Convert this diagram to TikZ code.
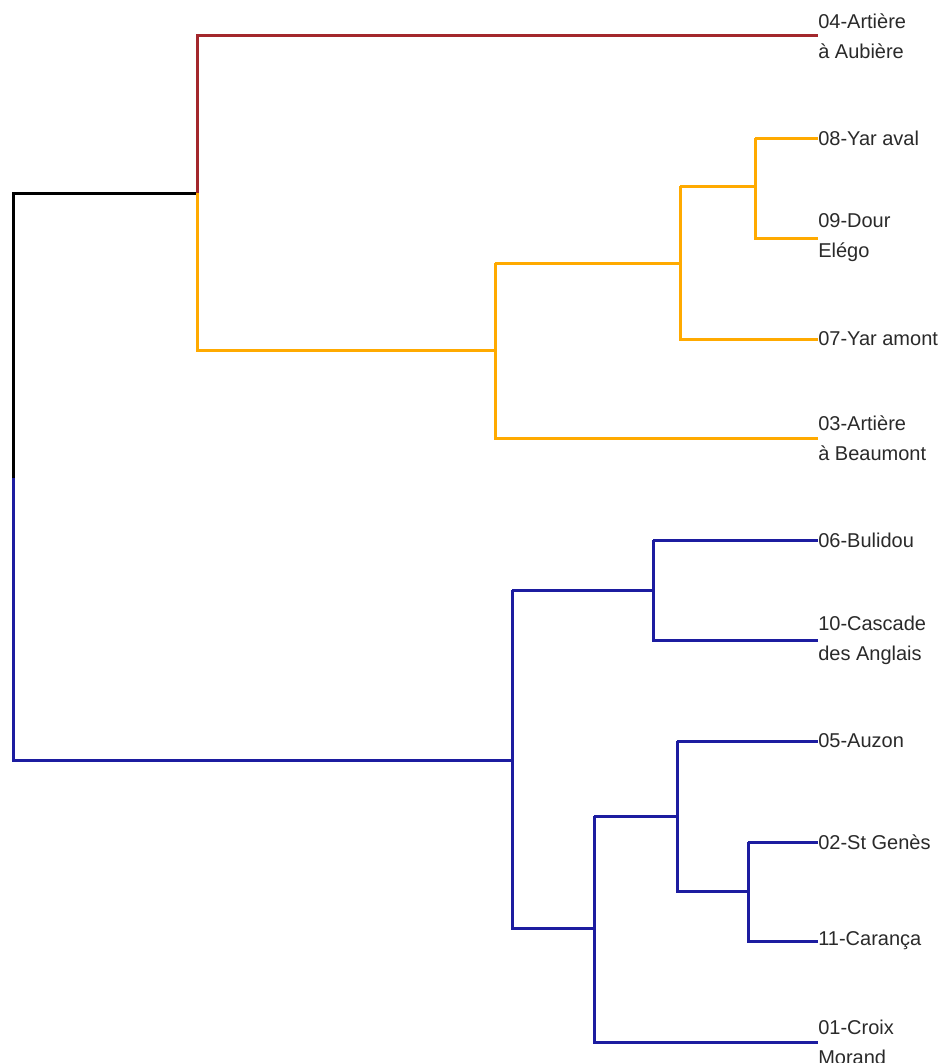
\documentclass[tikz,border=0pt]{standalone}
\usepackage{fontspec}
\setmainfont{Liberation Sans}
\definecolor{cred}{HTML}{A3272C}
\definecolor{corange}{HTML}{FFAA00}
\definecolor{cblue}{HTML}{1C1CA0}
\definecolor{ctext}{HTML}{2A2A2A}
\begin{document}
\begin{tikzpicture}[x=0.75pt,y=-0.75pt,
  branch/.style={line width=2.25pt},
  lab/.style={anchor=west,inner sep=0pt,align=left,text=ctext,
    font=\fontsize{15pt}{22.5pt}\selectfont}]
\fill[white] (0,0) rectangle (944,1063);
\useasboundingbox (0,0) rectangle (944,1063);
% leaf labels
\node[lab] (n04) at (818,36) {04-Artière\\à Aubière};
\node[lab] (n08) at (818,138) {08-Yar aval};
\node[lab] (n09) at (818,238) {09-Dour\\Elégo};
\node[lab] (n07) at (818,339) {07-Yar amont};
\node[lab] (n03) at (818,438) {03-Artière\\à Beaumont};
\node[lab] (n06) at (818,540) {06-Bulidou};
\node[lab] (n10) at (818,640) {10-Cascade\\des Anglais};
\node[lab] (n05) at (818,741) {05-Auzon};
\node[lab] (n02) at (818,842) {02-St Genès};
\node[lab] (n11) at (818,941) {11-Carança};
\node[lab] (n01) at (818,1042) {01-Croix\\Morand};
% internal coordinates
\coordinate (root) at (13,193);
\coordinate (rootb) at (13,760);
\coordinate (rmid) at (13,478);
\coordinate (kA) at (197,193);
\coordinate (kO) at (495,350);
\coordinate (kO2) at (680,263);
\coordinate (kO3) at (755,186);
\coordinate (kB) at (512,760);
\coordinate (kB1) at (653,590);
\coordinate (kB2) at (594,928);
\coordinate (kB3) at (677,816);
\coordinate (kB4) at (748,891);
% black part
\draw[branch,black] (rmid) -- (root) -- (kA);
% red
\draw[branch,cred] (kA) |- (n04.west);
% orange
\draw[branch,corange] (kA) |- (kO);
\draw[branch,corange] (kO |- kO2) |- (n03.west);
\draw[branch,corange] (kO |- kO2) -- (kO2);
\draw[branch,corange] (kO2 |- kO3) |- (n07.west);
\draw[branch,corange] (kO2 |- kO3) -- (kO3);
\draw[branch,corange] (kO3 |- n08.west) |- (n09.west);
\draw[branch,corange] (kO3 |- n08.west) -- (n08.west);
% blue
\draw[branch,cblue] (rmid) -- (rootb) -- (kB);
\draw[branch,cblue] (kB |- kB1) |- (kB2);
\draw[branch,cblue] (kB |- kB1) -- (kB1);
\draw[branch,cblue] (kB1 |- n06.west) |- (n10.west);
\draw[branch,cblue] (kB1 |- n06.west) -- (n06.west);
\draw[branch,cblue] (kB2 |- kB3) |- (n01.west);
\draw[branch,cblue] (kB2 |- kB3) -- (kB3);
\draw[branch,cblue] (kB3 |- n05.west) |- (kB4);
\draw[branch,cblue] (kB3 |- n05.west) -- (n05.west);
\draw[branch,cblue] (kB4 |- n02.west) |- (n11.west);
\draw[branch,cblue] (kB4 |- n02.west) -- (n02.west);
\end{tikzpicture}
\end{document}
